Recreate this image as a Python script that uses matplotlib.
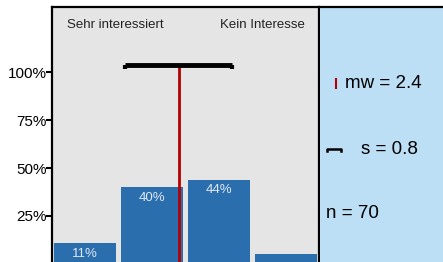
import matplotlib.pyplot as plt
import numpy as np

plt.rcParams['font.family'] = ['Liberation Sans', 'DejaVu Sans']

# data
categories = [1, 2, 3, 4]
shares = [11, 40, 44, 5]
bar_labels = ['11%', '40%', '44%', '']
mean_value = 2.4
std_value = 0.8
n_value = 70
ytick_vals = [25, 50, 75, 100]
ytick_labels = ['25%', '50%', '75%', '100%']

W, H = 443, 262
fig = plt.figure(figsize=(W / 100, H / 100), dpi=100)

ax = fig.add_axes([52 / W, 0, 267 / W, 255 / H])
ax.set_facecolor('#e5e5e5')
ax.bar(categories, shares, width=0.93, color='#2a6ead', zorder=2)
for x, v, lab in zip(categories, shares, bar_labels):
    ax.text(x, v - 2.5, lab, ha='center', va='top', color='#dfe8f3', fontsize=9.5, zorder=3)

# mean line and std bracket
ax.plot([mean_value, mean_value], [0, 102.5], color='#b40000', lw=2, zorder=4)
ax.plot([mean_value - std_value, mean_value + std_value], [103.5, 103.5],
        color='black', lw=3.5, solid_capstyle='butt', zorder=5)
for xe in [mean_value - std_value, mean_value + std_value]:
    ax.plot([xe, xe], [103.5, 101.8], color='black', lw=3, solid_capstyle='butt', zorder=5)

ax.text(0.72, 124.5, 'Sehr interessiert', ha='left', va='center', fontsize=9.5, color='#222222')
ax.text(4.29, 124.5, 'Kein Interesse', ha='right', va='center', fontsize=9.5, color='#222222')

ax.set_xlim(0.5, 4.5)
ax.set_ylim(1, 134)
ax.set_xticks([])
ax.set_yticks(ytick_vals)
ax.set_yticklabels(ytick_labels, fontsize=11)
ax.tick_params(axis='y', length=4, width=1.5, pad=0)
ax.spines['bottom'].set_visible(False)
for side in ['left', 'right', 'top']:
    ax.spines[side].set_linewidth(1.6)

# legend panel
lg = fig.add_axes([320 / W, 0, 123 / W, 255 / H])
lg.set_facecolor('#bcdff5')
lg.set_xlim(0, 123)
lg.set_ylim(255, 0)
lg.set_xticks([])
lg.set_yticks([])
for side in ['bottom', 'right', 'left']:
    lg.spines[side].set_visible(False)
lg.spines['top'].set_linewidth(1.6)

lg.plot([16, 16], [72, 81], color='#b40000', lw=1.5)
lg.text(25, 77, 'mw = %.1f' % mean_value, va='center', ha='left', fontsize=13.5)
lg.plot([7, 7, 21, 21], [144, 141.5, 141.5, 144], color='black', lw=1.8)
lg.text(41, 142, 's = %.1f' % std_value, va='center', ha='left', fontsize=13.5)
lg.text(6, 206, 'n = %d' % n_value, va='center', ha='left', fontsize=13.5)

fig.savefig('out.png', dpi=100)
